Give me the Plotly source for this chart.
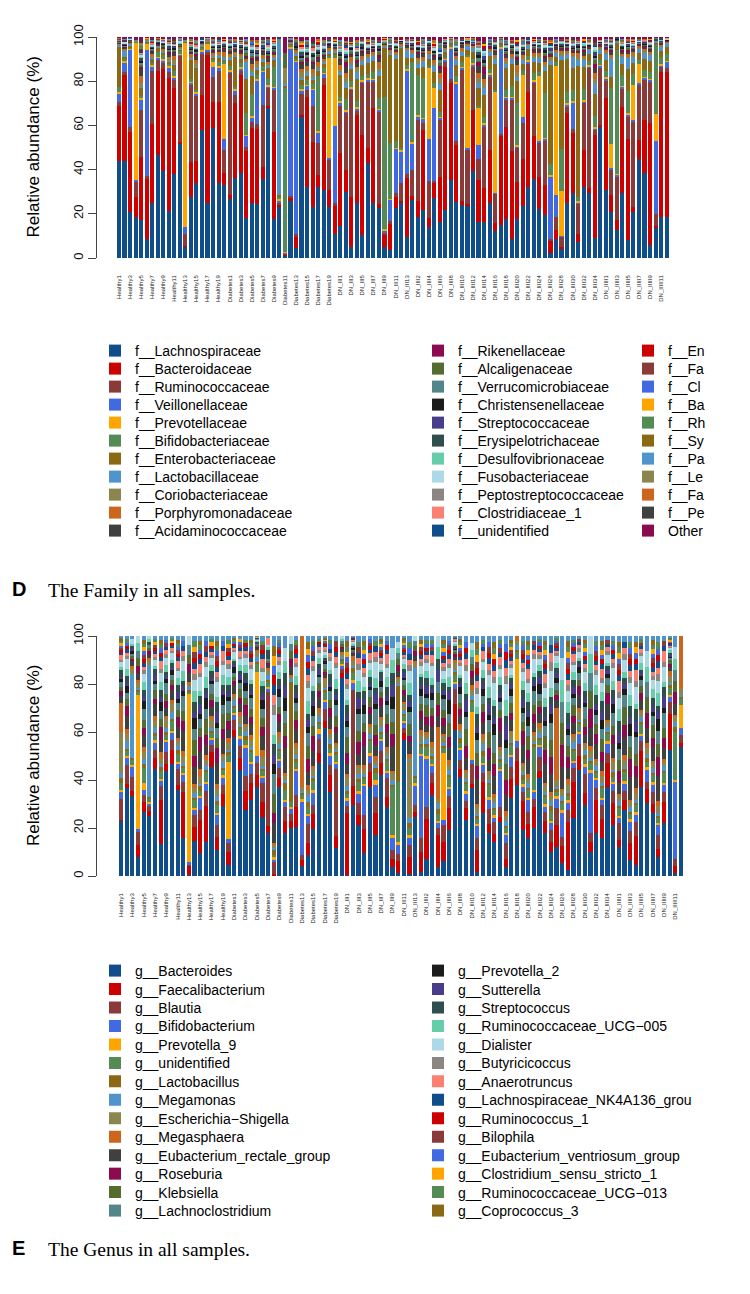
import plotly.graph_objects as go

W, H = 750, 1294

# ---------------- categories ----------------
samples = (["Healthy%d" % i for i in range(1, 21)] + ["Diabetes%d" % i for i in range(1, 21)]
           + ["DN_III%d" % i for i in range(1, 14)] + ["DN_IIII%d" % i for i in range(1, 36)]
           + ["DN_IIIII%d" % i for i in range(1, 13)])
tick_labels = samples[::2]

pal = ["#104E8B", "#CD0000", "#8B3A3A", "#4169E1", "#FFA500", "#548B54", "#8B6914",
       "#4F94CD", "#8B864E", "#CD661D", "#404040", "#8B0A50", "#556B2F", "#53868B",
       "#1C1C1C", "#483D8B", "#2F4F4F", "#66CDAA", "#ADD8E6", "#8B8682", "#FA8072"]

fam_names = ["f__Lachnospiraceae", "f__Bacteroidaceae", "f__Ruminococcaceae", "f__Veillonellaceae",
             "f__Prevotellaceae", "f__Bifidobacteriaceae", "f__Enterobacteriaceae", "f__Lactobacillaceae",
             "f__Coriobacteriaceae", "f__Porphyromonadaceae", "f__Acidaminococcaceae",
             "f__Rikenellaceae", "f__Alcaligenaceae", "f__Verrucomicrobiaceae", "f__Christensenellaceae",
             "f__Streptococcaceae", "f__Erysipelotrichaceae", "f__Desulfovibrionaceae",
             "f__Fusobacteriaceae", "f__Peptostreptococcaceae", "f__Clostridiaceae_1", "f__unidentified",
             "f__En", "f__Fa", "f__Cl", "f__Ba", "f__Rh", "f__Sy", "f__Pa", "f__Le", "f__Fa", "f__Pe", "Other"]

gen_names = ["g__Bacteroides", "g__Faecalibacterium", "g__Blautia", "g__Bifidobacterium", "g__Prevotella_9",
             "g__unidentified", "g__Lactobacillus", "g__Megamonas", "g__Escherichia\u2212Shigella",
             "g__Megasphaera", "g__Eubacterium_rectale_group", "g__Roseburia", "g__Klebsiella",
             "g__Lachnoclostridium", "g__Prevotella_2", "g__Sutterella", "g__Streptococcus",
             "g__Ruminococcaceae_UCG\u2212005", "g__Dialister", "g__Butyricicoccus", "g__Anaerotruncus",
             "g__Lachnospiraceae_NK4A136_grou", "g__Ruminococcus_1", "g__Bilophila",
             "g__Eubacterium_ventriosum_group", "g__Clostridium_sensu_stricto_1",
             "g__Ruminococcaceae_UCG\u2212013", "g__Coprococcus_3", "Others"]

# ---------------- family: main families (% abundance) ----------------
f_lachno = [44,44,21,18.7,17,8.6,24.7,46.6,39.4,21.3, 38,52,5,27.8,34,58,25,59,33.8,33,
            26.5,36.3,38.3,18.3,24.7,24.5,35.7,67.7,17.6,23, 1,26,4.4,63.6,32.3,23,32.3,30.8,23,11,
            14.5,30,5,24.7,10.4,42.8,24.7,22.5,5,3.6, 22.5,24.7,9.7,26.2,18.7,21.7,14,27,16.4,21.7,
            35.3,25.5,24,23.5,39.5,16.4,16.4,25,12,15, 17.5,8.4,17.5,23.7,32,35.6,22,19.5,2.4,8.4,
            4.4,24.7,29.3,7.2,32.3,29.3,8.9,59.4,30.8,21, 12.7,29.3,8.1,21,44.6,38.6,5.9,13.9,18.7,18.7]
f_bactero = [25,39,36,9,28.5,27,36,38,46,60, 39,0.5,0.5,15.8,10,15.6,67,11.7,37,5.3,
             2,33.7,44.5,30,34,34,5.5,1,39.4,1, 0.5,1,5.3,1,40.7,29.6,5.3,47.5,7.8,12.7,
             33,9.8,22.8,40,45.3,6.8,43,2,5.4,12, 5,1,26.3,2,7.3,36.3,4,6.8,20.4,64.9,
             43.7,25.5,2,1,27.5,18.9,15.1,24,3.7,40, 41.9,40,17,21.3,43.3,19.4,14.8,13.5,5.4,4.3,
             0.5,40.8,27.1,3.7,16.6,2.2,46.8,1,41.4,7.5, 4.4,39.2,45.9,2,8.8,23.8,55.1,0.5,65.6,65.6]
f_rumino = [1.5,1,2.4,7,21.5,1.4,24,5,3,3, 3.5,39,5.4,34.7,29.5,18.8,1,11.3,14,10.7,
            55,3.8,2,2,3,2,28,8,19,1, 0.5,1,1,9.4,3,16,14.3,3,13.6,1,
            21.5,25.7,48,2,23.3,30.2,12,41.5,1,1, 2,8.3,2,11.6,36.4,3,17,1,25.6,2,
            2,2,59,24.5,19.6,9.7,27.9,33,13.3,1, 12.1,23,15.1,16,12.7,24,15.2,20,1,6,
            4.6,3,2,13.8,21.1,54.3,2,25.6,8,11.3, 19.5,8,10,38.4,24.9,18.1,18.7,5.6,2,1.5]
f_veillon = [4,4.5,35,0.6,4.5,57,2,1,1,2, 1,0.5,3,1,1,1,1,4.6,1,5,
             1,2.2,1,5,2,20,15,1,1,1, 0.5,67,78,2,2,7.5,5,2,1,35,
             1,1,1,1,1,1,1,1,1,9.8, 20,14.4,46.8,12.2,1.5,2,19,33.2,1,1,
             14,26,1,1,1,6,1,1,0.5,39, 1,1,1,3,1,1,1,1,28.2,9.8,
             0.5,1,12.1,0.5,1,1,1,1,1,1, 1,1,1,1,1,1,1,33.1,1,3]
f_prevo = [0.5,0.5,0.5,62,1,3,0.5,0.5,0.5,0.5, 1,0.5,83.5,0.5,0.5,0.5,3,2,1,34,
           0.5,0.5,0.5,0.5,0.5,0.5,0.5,0.5,0.5,0.5, 0.3,0.5,0.5,0.5,0.5,0.5,0.5,0.5,45,31,
           1,0.5,0.5,0.5,0.5,0.5,0.5,0.5,0.5,0.5, 0.5,0.5,0.5,0.5,1,0.5,32,9,0.5,0.5,
           0.5,0.5,0.5,41,0.5,16.7,0.5,0.5,45.5,0.5, 0.5,0.5,0.5,18.8,0.5,0.5,29.3,0.5,0.5,58.4,
           20.5,0.5,0.5,0.5,0.5,0.5,0.5,0.5,0.5,10.6, 0.5,0.5,0.5,16,8.3,0.5,0.5,12.1,0.5,0.5]
f_bifido = [2.5,1,0.5,0.5,1,0.5,1,2,2,1, 2,1,0.3,1,1,1,0.5,1,2,1,
            2,1,2,10,10,2,2,3,9,1, 74,1,1,2,2,2,25,2,1,1,
            2,5,3,3,2,2,3,5,60,25, 3,1,2,36,18,18,1,2,2,1,
            1,3,2,1,2,1,3,2,1,1, 3,5,19,2,2,3,2,20,5,2,
            19,5,5,2,5,2,5,2,3,25.6, 56,5,10,5,2,3,3,31,3,3]
f_entero = [18,1,0.5,0.3,3.5,0.5,2,2,1,1, 3,1,0.3,9,10,1,0.5,1,2,1,
            3,13.5,2,15,8,2,2,5,3,1, 1,0.5,1,2,2,2,2,2,1,1,
            10,5,5,10,5,5,5,10,22,40, 37,45,3,2,3,5,3,5,10,2,
            1,5,3,2,3,8.3,10,6,12,1, 10,10,10,3,3,5,4,10,45,2,
            40,15,10,59,10,3,10,3,5,5, 3,5,10,5,3,5,5,1,3,3]
f_lacto = [1,3,1,0.2,0.5,0.5,0.5,0.5,0.5,0.5, 0.5,0.5,0.2,0.5,0.5,0.5,0.5,0.5,0.5,0.5,
           0.5,0.5,0.5,8,2,1,1,1,1,70, 1,0.5,1,1,1,1,1,1,1,1,
           1,2,2,3,2,2,2,2,1,1, 2,1,4,2,2,2,2,3,3,1,
           1,2,2,2,2,2,3,2,2,1, 2,2,2,2,2,2,2,2,2,2,
           2,2,5,3,3,2,5,2,3,8, 1,3,5,3,2,3,3,1,2,2]

# minor families: relative share of each within the remaining abundance of a sample
w_corio = [2,1,1,1,3,1,2,2,2,2, 3,1,1,2,3,2,1,2,3,2, 2,3,2,1,2,3,2,1,2,1, 1,1,2,3,2,2,3,1,2,1,
           2,3,2,2,1,2,3,2,1,2, 1,2,3,2,3,2,1,2,3,2, 1,2,2,3,2,3,2,1,2,2, 3,2,3,2,1,2,3,2,1,2,
           3,2,1,3,2,1,2,3,2,2, 3,2,1,2,3,2,1,2,3,1]
w_porph = [2,1,1,0,5,1,2,1,3,2, 4,1,0,3,2,1,1,2,3,4, 3,2,2,1,3,2,4,1,2,0, 0,1,1,2,3,2,3,1,4,2,
           3,2,4,2,3,2,3,4,1,1, 2,3,2,4,2,3,4,2,3,2, 1,2,3,2,4,3,2,3,2,1, 3,2,4,3,2,3,4,2,1,2,
           2,3,4,3,2,1,3,2,4,2, 3,2,3,2,4,3,2,1,2,3]
w_acid = [3,2,1,1,5,1,3,2,2,3, 3,1,1,2,3,2,1,3,2,3, 2,2,4,2,3,2,3,2,2,1, 0,2,1,3,3,2,2,2,3,2,
          3,3,2,3,3,2,2,3,1,2, 2,2,3,2,3,3,2,3,2,3, 3,2,4,3,2,4,2,3,3,2, 3,2,3,2,3,2,4,3,2,3,
          3,2,3,2,3,3,2,3,2,3, 3,3,2,3,2,3,2,2,3,2]
w_riken = [1,1,0,0,2,0,2,1,1,2, 1,0,0,1,2,1,1,1,2,1, 2,1,2,1,1,1,2,1,1,0, 0,1,0,1,2,1,2,1,1,1,
           2,2,1,2,1,1,2,2,1,1, 1,1,2,1,2,1,2,1,2,1, 2,1,2,2,1,2,3,2,1,1, 2,1,2,1,2,2,1,2,1,2,
           1,2,2,1,2,1,2,1,2,2, 1,2,2,1,2,2,1,1,2,1]
w_alcal = [1,1,1,0,1,0,1,1,2,1, 1,1,0,1,1,1,1,1,1,1, 2,1,1,2,1,1,1,1,2,1, 1,0,1,1,1,1,2,1,1,0,
           1,1,1,2,1,1,1,2,1,1, 1,1,1,2,1,1,1,1,2,1, 1,1,1,1,2,1,1,1,1,1, 2,1,1,1,1,2,1,1,1,1,
           1,2,1,1,1,1,2,1,1,1, 1,1,2,1,1,1,1,1,1,2]
w_verru = [1,1,0,0,1,0,1,0,1,1, 1,0,0,1,1,0,1,1,1,0, 1,1,1,3,2,1,1,0,1,1, 0,1,0,1,1,1,1,1,0,1,
           1,1,1,1,1,0,1,1,1,0, 1,1,1,1,1,1,0,1,1,1, 1,1,0,1,1,1,1,1,1,0, 1,1,1,1,0,1,1,1,1,1,
           0,1,1,1,1,0,1,1,1,1, 1,0,1,1,1,1,1,0,1,1]
w_chris = [1,1,0,0,2,0,1,1,1,1, 2,1,0,1,1,1,0,1,2,1, 1,1,2,1,1,1,1,1,1,0, 0,0,1,1,1,1,1,1,1,1,
           1,1,2,1,1,1,1,1,0,0, 1,1,1,1,1,1,1,1,2,1, 1,1,1,1,1,2,1,1,1,1, 1,1,1,1,1,1,1,2,0,1,
           1,1,1,2,1,1,1,1,1,1, 1,2,1,1,1,1,1,1,1,1]
w_strep = [1,1,1,0,1,0,1,1,1,2, 1,0,0,1,1,2,1,1,1,1, 1,1,1,0,1,1,2,1,1,0, 0,1,1,1,1,0,1,1,1,1,
           1,1,0,1,2,1,1,1,1,1, 0,1,1,2,1,1,1,0,1,1, 1,1,1,1,1,1,2,1,1,1, 1,0,1,1,1,1,1,1,2,1,
           1,1,2,1,1,0,1,1,1,1, 2,1,1,1,0,1,1,1,1,1]
w_erys = [1,0,1,0,1,0,1,1,0,1, 1,1,0,1,0,1,1,0,1,1, 0,1,1,1,0,1,1,0,1,1, 0,1,0,1,0,1,1,0,1,0,
          1,0,1,1,1,0,1,1,0,1, 1,0,1,1,0,1,1,0,1,1, 0,1,1,0,1,1,0,1,1,0, 1,1,0,1,1,0,1,1,0,1,
          1,0,1,1,0,1,1,0,1,1, 0,1,1,0,1,1,0,1,1,0]
w_desul = [1,1,0,0,1,0,1,2,1,1, 0,1,0,1,1,1,0,1,1,1, 1,0,1,1,1,0,1,1,1,0, 0,1,0,1,1,0,1,1,0,1,
           1,1,0,1,1,1,0,1,1,0, 1,0,1,1,0,1,1,1,0,1, 1,1,0,1,1,1,1,0,1,1, 1,0,1,1,1,0,1,1,1,0,
           1,1,1,0,1,1,1,0,1,1, 1,1,0,1,1,0,1,1,1,1]
w_fuso = [1,2,1,0,1,0,1,1,1,1, 1,2,0,1,1,1,1,1,1,1, 1,1,1,1,1,1,1,1,1,0, 0,1,0,1,1,1,1,1,1,1,
          1,1,1,1,1,1,1,1,0,1, 1,1,1,2,1,1,1,1,1,1, 1,1,1,1,1,1,1,1,1,1, 1,1,1,1,1,1,1,1,1,1,
          1,1,1,1,1,1,1,1,1,1, 1,1,1,1,1,1,1,1,1,1]
w_pepto = [1,0,0,0,1,0,1,1,0,1, 0,1,0,1,0,1,0,1,1,0, 1,0,1,0,1,0,1,0,1,0, 0,1,0,0,1,0,1,0,1,0,
           1,0,1,0,1,0,1,0,0,1, 0,1,0,1,0,1,0,1,0,1, 0,1,0,1,0,1,0,1,0,1, 0,1,0,1,0,1,0,1,0,1,
           0,1,0,1,0,1,0,1,0,1, 0,1,0,1,0,1,0,1,0,1]
w_clos1 = [2,1,0,0,1,0,1,0,1,1, 1,0,0,1,1,0,1,0,1,1, 1,0,1,1,0,1,0,1,1,0, 0,1,0,1,0,1,1,0,1,0,
           1,1,0,1,0,1,1,0,1,0, 1,0,1,0,1,1,0,1,0,1, 1,0,1,1,0,1,0,1,1,0, 1,0,1,0,1,1,0,1,0,1,
           1,0,1,1,0,1,0,1,1,0, 1,1,0,1,0,1,1,0,1,1]
w_unid = [1,1,0,0,1,0,0,1,1,0, 1,0,0,1,0,1,1,0,1,0, 1,0,1,0,1,1,0,1,0,1, 0,0,1,0,1,0,1,0,1,1,
          0,1,0,1,0,1,0,1,1,0, 1,0,1,0,1,0,1,0,1,0, 1,0,1,0,1,0,1,0,1,0, 1,0,1,0,1,0,1,0,1,0,
          1,0,1,0,1,0,1,0,1,0, 1,0,1,0,1,0,1,0,1,0]
w_en = [0,1,0,0,1,0,1,0,0,1, 0,0,0,1,0,0,1,0,0,1, 0,0,1,0,0,1,0,0,1,0, 0,0,0,1,0,0,1,0,0,1,
        0,0,1,0,0,1,0,0,1,0, 0,1,0,0,1,0,0,1,0,0, 1,0,0,1,0,0,1,0,0,1, 0,0,1,0,0,1,0,0,1,0,
        0,1,0,0,1,0,0,1,0,0, 1,0,0,1,0,0,1,0,0,1]
w_fa = [1,0,0,0,1,0,0,1,0,0, 1,0,0,0,1,0,0,1,0,0, 1,0,0,1,0,0,1,0,0,0, 0,0,1,0,0,1,0,0,1,0,
        0,1,0,0,1,0,0,1,0,0, 1,0,0,1,0,0,1,0,0,1, 0,0,1,0,0,1,0,0,1,0, 0,1,0,0,1,0,0,1,0,0,
        1,0,0,1,0,0,1,0,0,1, 0,0,1,0,0,1,0,0,1,0]
w_cl = [0,0,1,0,0,0,1,0,1,0, 0,1,0,0,0,1,0,0,1,0, 0,1,0,0,1,0,0,1,0,0, 0,1,0,0,1,0,0,1,0,0,
        1,0,0,1,0,0,1,0,0,1, 0,0,1,0,0,1,0,0,1,0, 0,1,0,0,1,0,0,1,0,0, 1,0,0,1,0,0,1,0,0,1,
        0,0,1,0,0,1,0,0,1,0, 0,1,0,0,1,0,0,1,0,0]
w_ba = [0,1,0,0,0,1,0,0,1,0, 0,0,0,1,0,0,1,0,0,1, 0,0,1,0,0,1,0,0,1,0, 0,0,0,1,0,0,1,0,0,1,
        0,0,1,0,0,1,0,0,1,0, 0,1,0,0,1,0,0,1,0,0, 1,0,0,1,0,0,1,0,0,1, 0,0,1,0,0,1,0,0,1,0,
        0,1,0,0,1,0,0,1,0,0, 1,0,0,1,0,0,1,0,0,1]
w_rh = [1,0,0,0,1,0,1,0,0,1, 0,0,0,1,0,1,0,0,1,0, 1,0,0,1,0,0,1,0,0,0, 0,0,1,0,0,1,0,0,1,0,
        1,0,0,1,0,0,1,0,0,1, 0,0,1,0,0,1,0,0,1,0, 0,1,0,0,1,0,0,1,0,0, 1,0,0,1,0,0,1,0,0,1,
        0,0,1,0,0,1,0,0,1,0, 0,1,0,0,1,0,0,1,0,0]
w_sy = [0,0,0,0,1,0,0,1,0,0, 1,0,0,0,1,0,0,1,0,0, 0,1,0,0,1,0,0,1,0,0, 0,0,0,0,1,0,0,1,0,0,
        1,0,0,1,0,0,1,0,0,1, 0,0,1,0,0,1,0,0,1,0, 0,1,0,0,1,0,0,1,0,0, 1,0,0,1,0,0,1,0,0,1,
        0,0,1,0,0,1,0,0,1,0, 0,1,0,0,1,0,0,1,0,0]
w_pa = [1,1,0,0,0,0,1,0,0,1, 0,1,0,0,1,0,0,1,0,0, 1,0,0,1,0,0,1,0,0,0, 0,1,0,0,1,0,0,1,0,0,
        1,0,0,1,0,0,1,0,0,1, 0,0,1,0,0,1,0,0,1,0, 0,1,0,0,1,0,0,1,0,0, 1,0,0,1,0,0,1,0,0,1,
        0,0,1,0,0,1,0,0,1,0, 0,1,0,0,1,0,0,1,0,0]
w_le = [0,0,0,0,1,0,0,0,1,0, 0,0,0,1,0,0,0,1,0,0, 0,1,0,0,0,1,0,0,0,1, 0,0,0,1,0,0,0,1,0,0,
        0,1,0,0,0,1,0,0,0,1, 0,0,0,1,0,0,0,1,0,0, 0,1,0,0,0,1,0,0,0,1, 0,0,0,1,0,0,0,1,0,0,
        0,1,0,0,0,1,0,0,0,1, 0,0,0,1,0,0,0,1,0,0]
w_fa2 = [1,0,0,0,1,0,0,1,0,0, 0,1,0,0,1,0,0,0,1,0, 0,1,0,0,0,1,0,0,1,0, 0,0,1,0,0,0,1,0,0,1,
         0,0,0,1,0,0,1,0,0,0, 1,0,0,1,0,0,0,1,0,0, 1,0,0,0,1,0,0,1,0,0, 0,1,0,0,1,0,0,0,1,0,
         0,1,0,0,0,1,0,0,1,0, 0,0,1,0,0,1,0,0,0,1]
w_pe = [1,0,0,0,1,0,1,0,0,0, 1,0,0,0,0,1,0,0,1,0, 0,0,1,0,0,0,1,0,0,0, 0,1,0,0,0,1,0,0,0,1,
        0,0,1,0,0,0,1,0,0,0, 1,0,0,0,1,0,0,0,1,0, 0,0,1,0,0,0,1,0,0,0, 1,0,0,0,1,0,0,0,1,0,
        0,0,1,0,0,0,1,0,0,0, 1,0,0,0,1,0,0,0,1,0]
w_other = [2,2,1,1,3,1,2,2,2,2, 2,1,1,2,2,2,1,2,2,2, 2,2,2,2,2,2,2,1,2,1, 1,1,1,2,2,2,2,2,2,1,
           2,2,2,2,2,2,2,2,1,1, 2,2,2,2,2,2,2,2,2,2, 2,2,2,2,2,2,2,2,2,2, 2,2,2,2,2,2,2,2,1,2,
           2,2,2,2,2,2,2,2,2,2, 2,2,2,2,2,2,2,2,2,2]

# ---------------- genus: main genera (% abundance) ----------------
g_bact = [23,36.5,33.3,8,26.8,25,44.4,13.3,43.8,46.5, 36,16,0.3,14.7,9.4,14.3,45.6,10.8,29,4.6,
          58,44.2,27.5,31.7,37.2,24.7,17.8,0.3,36.9,17.8, 19.9,20.6,4.6,8.8,19.7,47.2,61.5,35.1,11.5,82.4,
          0.3,29.6,21.3,9.4,37.2,17.1,42.1,28.9,3.9,1.1, 56.7,1,24.7,1.8,6.9,33.8,3.9,6.3,19.2,60.8,
          41.4,23.3,36.5,1.8,26.1,17.8,14.3,22.6,3.9,32.4, 39.3,19.2,15.7,19.9,40.7,17.8,10.1,12.2,5.3,2.5,
          24,44.2,29.6,10.1,17.8,15.7,37.2,21.3,12.2,27.5, 6.7,4.6,37.2,30.3,26.1,8.1,21.9,52.5,1.1,61.5]
g_faec = [0.5,2,2,5,4,2,4.6,18.3,3,6, 2,19,3.9,5.8,14,15,6,5.6,5,5.5, 3,5,8,7,5,6,3,0.5,4,5,
          3,8,3,5,6,4,3,7,5,2, 26,8,4,10,6,9,5,4,3,5, 3,7,2,8,17,5,13,8,9,11,
          3,5,2,9,13,4,3,2,3,8, 10,12,6,9,3,5,4,9,7,20, 15,6,5,4,14,8,10,9,3,4,
          7,12,15,6,4,3,9,15,3,2]
g_blau = [8.6,7.6,6,5.5,3,2,3.5,6,5,4, 6.7,4,0.5,5,4,6,3,5,4,3.5, 4,5,6,4,5,8,56,5,4,6,
          3,5,2,8,4,6,5,4,28,2, 3,40,5,6,4,7,5,8,4,3, 2,5,3,6,5,4,3,7,5,6,
          4,3,8,5,4,6,5,4,7,5, 6,4,5,3,6,4,5,7,4,5, 6,5,8,4,5,6,4,5,7,4,
          5,6,4,3,5,6,4,5,3,4]
g_bifi = [2.8,3,4,1,2,1,3,2,4,3, 2,3,1,2,5,3,2,4,3,2, 2,3,12,4,3,2,1,1,3,2, 2,10,25,3,5,2,3,4,2,1,
          2,3,4,12,3,5,4,2,5,4, 2,3,8,34,20,3,2,2,3,2, 4,3,2,5,3,4,2,15,3,4, 3,2,5,3,4,2,3,4,10,3,
          2,4,3,25,3,2,4,3,2,3, 4,3,2,5,3,4,3,2,32,3]
g_prev9 = [1,1,1,56,3,1,1,1,1,1, 1,1,70,1,1,1,1,1,1,32, 1,1,1,1,35,1,1,1,1,1, 1,1,1,1,1,2,1,1,1,1,
           1,1,1,1,1,2,1,1,1,1, 1,1,1,1,1,1,1,28,1,1, 1,1,20,1,1,1,1,1,1,1, 35,1,1,1,1,1,1,1,1,1,
           1,1,1,1,1,1,1,1,1,1, 1,1,1,1,1,1,1,1,1,11]
g_unid = [3,2,2,1,6,1,2,3,2,4, 3,2,1,3,2,4,2,3,2,3, 2,3,2,4,3,2,2,1,3,4, 2,3,2,3,4,2,3,2,3,1,
          2,3,4,2,5,3,2,4,20,25, 2,3,2,3,4,2,3,2,4,3, 2,3,4,2,3,5,2,3,2,4, 3,2,3,18,2,3,4,2,3,2,
          4,3,2,3,2,4,3,2,3,4, 2,3,4,2,3,2,4,3,20,3]
g_lact = [2,1,1,1,2,1,1,2,1,1, 2,1,1,1,2,1,1,2,1,1, 1,1,2,1,1,1,1,2,1,3, 50,1,1,2,1,1,1,2,1,1,
          1,2,1,1,1,2,1,1,1,40, 1,2,1,1,1,1,2,1,1,1, 2,1,1,1,2,1,1,1,1,1, 1,2,1,1,1,1,2,1,1,1,
          1,1,2,1,1,1,1,2,1,1, 1,1,1,2,1,1,1,1,2,1]
g_mega = [2,3,35,1,2,55,2,1,2,3, 2,1,1,2,1,2,1,2,3,1, 2,1,2,1,2,1,2,1,2,1, 1,2,1,3,1,2,1,2,1,1,
          2,1,2,1,2,1,2,1,2,1, 1,2,45,1,2,1,2,1,2,1, 2,1,2,1,3,1,2,1,2,1, 2,1,2,1,2,1,2,1,2,1,
          3,1,2,1,2,1,2,1,2,1, 2,1,2,1,2,1,2,1,2,1]
g_esch = [17,3,2,2,3,2,3,2,4,3, 2,3,1,2,3,2,4,3,2,3, 2,3,2,3,2,4,2,1,3,2, 1,3,2,2,3,2,3,2,2,1,
          4,2,3,2,3,2,3,2,3,2, 3,25,2,3,2,3,2,3,2,3, 2,3,2,3,2,3,2,3,2,3, 2,3,2,3,2,3,2,3,2,3,
          2,3,2,3,2,3,2,3,2,3, 2,3,2,3,2,3,2,3,2,3]
g_megasph = [12,2,1,1,2,1,2,3,1,2, 1,2,1,2,3,2,1,2,1,2, 1,2,1,2,1,3,1,1,2,1, 1,2,70,2,1,2,1,2,1,1,
             1,2,1,2,1,2,1,2,1,1, 1,2,1,2,1,2,30,1,2,1, 2,1,2,1,2,1,2,1,2,1, 2,1,2,1,2,1,2,30,1,2,
             1,2,1,2,1,2,1,2,1,2, 1,2,1,2,1,2,1,2,1,25]

# minor genera: relative share within the remaining abundance of a sample
v_erect = [3,4,2,1,3,1,4,3,2,4, 3,4,1,3,4,2,3,4,3,2, 4,3,2,3,4,3,1,2,3,2, 1,3,1,2,3,4,2,3,2,1,
           2,3,2,4,3,2,4,3,2,1, 3,2,1,3,2,4,1,2,3,4, 3,2,1,4,3,2,3,4,2,3, 1,4,3,2,3,4,2,3,1,2,
           3,4,2,1,3,2,4,3,2,3, 4,2,3,1,3,4,2,3,1,2]
v_rose = [2,3,1,1,2,1,2,3,2,2, 3,2,1,2,3,2,2,3,2,2, 2,2,3,2,2,2,1,1,2,1, 1,2,1,2,3,2,2,2,1,1,
          2,2,2,3,2,2,3,2,1,1, 2,1,1,2,2,3,1,2,2,3, 2,2,1,2,3,2,2,3,2,2, 1,3,2,2,2,3,2,2,1,2,
          2,3,2,1,2,2,3,2,2,2, 3,2,2,1,2,3,2,2,1,2]
v_kleb = [2,2,1,1,2,1,3,2,2,2, 2,2,1,3,2,3,2,2,3,2, 2,3,2,2,3,2,1,2,2,1, 1,2,1,2,2,3,2,2,2,1,
          3,2,2,2,3,2,2,2,1,1, 2,2,1,2,3,2,1,2,3,2, 2,3,1,2,2,3,2,2,2,3, 1,2,3,2,2,3,2,2,1,2,
          3,2,2,1,2,3,2,2,2,3, 2,2,2,1,3,2,2,3,1,2]
v_lachno = [2,2,1,1,3,1,2,2,3,2, 2,3,1,2,2,2,3,2,2,3, 2,2,2,3,2,2,1,2,3,1, 1,2,1,2,2,2,3,2,2,1,
            2,2,3,2,2,3,2,2,1,1, 2,2,1,2,2,2,1,3,2,2, 3,2,1,2,2,2,3,2,2,2, 1,2,2,3,2,2,2,3,1,2,
            2,2,3,1,2,2,2,3,2,2, 2,3,2,1,2,2,3,2,1,2]
v_prev2 = [1,2,1,0,2,0,1,2,1,2, 1,1,0,2,1,2,1,1,2,1, 3,1,2,1,1,2,0,1,2,1, 0,1,0,1,2,1,2,1,1,0,
           1,2,1,2,1,1,2,1,1,0, 1,1,0,2,1,2,0,1,3,1, 2,1,0,1,2,1,2,1,1,2, 1,1,2,1,3,1,1,2,0,1,
           1,2,1,0,1,2,1,2,1,1, 2,1,1,0,1,2,1,1,0,1]
v_sutt = [1,1,1,0,1,0,2,1,1,1, 2,1,0,1,2,1,1,2,1,1, 1,2,1,1,2,1,0,1,1,1, 0,1,0,1,1,2,1,1,1,0,
          1,1,2,1,1,2,1,1,1,0, 2,1,0,1,2,1,1,1,2,1, 1,2,0,1,1,2,1,1,2,1, 1,2,1,1,2,1,1,2,0,1,
          2,1,1,0,1,2,1,1,2,1, 1,2,1,0,1,1,2,1,0,1]
v_strep = [3,2,1,0,2,1,2,2,1,2, 2,1,0,2,2,1,2,2,1,2, 2,1,2,2,1,2,4,1,2,1, 0,2,0,1,2,2,1,2,1,0,
           2,2,1,2,2,1,2,2,1,0, 2,1,0,2,2,1,1,2,1,2, 2,1,0,2,2,1,2,2,1,2, 1,2,2,1,2,2,1,2,0,2,
           2,1,2,0,2,2,1,2,2,1, 2,2,1,0,2,1,2,2,0,2]
v_ucg005 = [1,2,1,1,2,1,1,2,2,1, 2,2,0,2,1,2,2,1,2,2, 1,2,2,1,2,1,1,1,2,1, 0,2,0,2,1,2,2,1,2,1,
            1,2,2,1,2,2,1,2,1,1, 2,2,0,1,2,2,1,1,2,2, 1,2,1,1,2,2,1,2,2,1, 1,2,2,1,2,2,1,2,1,2,
            2,1,2,1,2,2,1,2,2,1, 2,1,2,1,2,2,1,2,1,2]
v_dial = [2,3,2,1,2,1,2,2,2,3, 2,2,1,2,3,2,2,3,2,2, 3,2,2,3,2,2,1,2,2,1, 1,2,1,2,3,2,2,2,2,1,
          2,3,2,2,2,3,2,2,1,1, 2,2,1,2,2,3,1,2,2,2, 3,2,1,2,2,2,3,2,2,2, 1,2,2,3,2,2,2,3,1,2,
          2,2,3,1,2,2,2,3,2,2, 2,3,2,1,2,2,3,2,1,2]
v_buty = [1,1,0,0,1,0,1,1,1,1, 1,1,0,1,1,1,1,1,1,1, 1,1,1,1,1,1,0,1,1,0, 0,1,0,1,1,1,1,1,1,0,
          1,1,1,1,1,1,1,1,0,0, 1,1,0,1,1,1,0,1,1,1, 1,1,0,1,1,1,1,1,1,1, 0,1,1,1,1,1,1,1,0,1,
          1,1,1,0,1,1,1,1,1,1, 1,1,1,0,1,1,1,1,0,1]
v_anaero = [2,1,0,0,1,0,1,2,1,1, 2,1,0,1,2,1,1,1,2,1, 1,2,1,1,1,2,3,1,1,0, 0,1,0,1,1,1,2,1,1,0,
            1,2,1,1,2,1,1,2,0,0, 1,1,0,1,1,2,0,1,1,2, 1,1,0,1,2,1,1,2,1,1, 0,1,2,1,1,2,1,1,0,1,
            2,1,1,0,1,2,1,1,2,1, 1,2,1,0,1,1,2,1,0,1]
v_nk4a = [1,1,0,0,1,0,1,1,1,1, 1,1,0,1,1,1,1,1,1,1, 1,1,1,1,1,1,0,1,1,0, 0,1,0,1,1,1,1,1,1,0,
          1,1,1,1,1,1,1,1,0,0, 1,1,0,1,1,1,0,1,1,1, 1,1,0,1,1,1,1,1,1,1, 0,1,1,1,1,1,1,1,0,1,
          1,1,1,0,1,1,1,1,1,1, 1,1,1,0,1,1,1,1,0,1]
v_rum1 = [1,1,0,0,1,0,1,1,0,1, 1,0,0,1,1,0,1,1,0,1, 1,0,1,1,0,1,0,1,1,0, 0,1,0,1,0,1,1,0,1,0,
          1,1,0,1,1,0,1,1,0,0, 1,0,0,1,1,0,0,1,1,0, 1,1,0,1,0,1,1,0,1,1, 0,1,1,0,1,1,0,1,0,1,
          1,0,1,0,1,1,0,1,1,0, 1,1,0,0,1,1,0,1,0,1]
v_bilo = [1,0,0,0,1,0,1,0,1,0, 1,0,0,1,0,1,0,1,0,1, 0,1,0,1,0,1,0,0,1,0, 0,1,0,0,1,0,1,0,1,0,
          1,0,1,0,1,0,1,0,0,0, 1,0,0,1,0,1,0,0,1,0, 1,0,0,1,0,1,0,1,0,1, 0,1,0,1,0,1,0,1,0,1,
          0,1,0,0,1,0,1,0,1,0, 1,0,1,0,1,0,1,0,0,1]
v_event = [1,1,0,0,1,0,0,1,1,0, 1,1,0,0,1,1,0,1,1,0, 1,1,0,1,1,0,0,1,1,0, 0,0,0,1,1,0,1,1,0,0,
           1,1,0,1,1,0,1,1,0,0, 1,1,0,0,1,1,0,1,1,0, 1,1,0,0,1,1,0,1,1,0, 0,1,1,0,1,1,0,1,0,1,
           1,0,1,0,1,1,0,1,1,0, 1,1,0,0,1,1,0,1,0,1]
v_clos = [1,0,0,0,1,0,1,0,0,1, 0,0,0,1,0,0,1,0,0,1, 0,1,0,0,1,0,0,1,0,0, 0,0,0,1,0,0,1,0,0,0,
          1,0,0,1,0,0,1,0,0,0, 1,0,0,1,0,0,0,1,0,0, 1,0,0,1,0,0,1,0,0,1, 0,0,1,0,0,1,0,0,0,1,
          0,0,1,0,0,1,0,0,1,0, 0,1,0,0,1,0,0,1,0,0]
v_ucg013 = [1,1,0,0,1,0,1,1,0,1, 1,0,0,1,1,0,1,1,0,1, 1,0,1,1,0,1,0,0,1,0, 0,1,0,0,1,1,0,1,0,0,
            1,0,1,1,0,1,1,0,0,0, 1,1,0,0,1,1,0,1,0,1, 1,0,0,1,1,0,1,1,0,1, 0,1,1,0,1,1,0,1,0,1,
            1,0,1,0,1,1,0,1,1,0, 1,0,1,0,1,1,0,1,0,1]
v_copro = [1,0,0,0,1,0,0,1,0,0, 1,0,0,0,1,0,0,1,0,0, 1,0,0,1,0,0,0,1,0,0, 0,0,0,1,0,0,1,0,0,0,
           1,0,0,1,0,0,1,0,0,0, 1,0,0,1,0,0,0,1,0,0, 1,0,0,1,0,0,1,0,0,1, 0,0,1,0,0,1,0,0,0,1,
           0,0,1,0,0,1,0,0,1,0, 0,1,0,0,1,0,0,1,0,0]
v_others = [1,1,1,0,1,0,1,1,1,1, 1,1,0,1,1,1,1,1,1,1, 1,1,1,1,1,1,1,1,1,1, 0,1,0,1,1,1,1,1,1,0,
            1,1,1,1,1,1,1,1,1,1, 1,1,0,1,1,1,0,1,1,1, 1,1,1,1,1,1,1,1,1,1, 1,1,1,1,1,1,1,1,1,1,
            1,1,1,0,1,1,1,1,1,1, 1,1,1,1,1,1,1,1,1,1]


def compose(majors, weights):
    """majors in %, minors fill the remainder of each sample in proportion to their weights"""
    n = len(samples)
    out = [list(m[:n]) for m in majors]
    minors = [[0.0] * n for _ in weights]
    for i in range(n):
        tot = sum(m[i] for m in out)
        if tot > 100:
            for m in out:
                m[i] = m[i] * 100.0 / tot
            tot = 100.0
        rest = 100.0 - tot
        ws = sum(w[i] for w in weights)
        for j, w in enumerate(weights):
            minors[j][i] = rest * w[i] / ws if ws > 0 else 0.0
    return out + minors


fam_vals = compose([f_lachno, f_bactero, f_rumino, f_veillon, f_prevo, f_bifido, f_entero, f_lacto],
                   [w_corio, w_porph, w_acid, w_riken, w_alcal, w_verru, w_chris, w_strep, w_erys,
                    w_desul, w_fuso, w_pepto, w_clos1, w_unid, w_en, w_fa, w_cl, w_ba, w_rh, w_sy,
                    w_pa, w_le, w_fa2, w_pe, w_other])
gen_vals = compose([g_bact, g_faec, g_blau, g_bifi, g_prev9, g_unid, g_lact, g_mega, g_esch, g_megasph],
                   [v_erect, v_rose, v_kleb, v_lachno, v_prev2, v_sutt, v_strep, v_ucg005, v_dial,
                    v_buty, v_anaero, v_nk4a, v_rum1, v_bilo, v_event, v_clos, v_ucg013, v_copro,
                    v_others])

fig = go.Figure()
LEG_FONT = dict(family="Liberation Sans, Arial, sans-serif", size=14, color="#000000")
legend_layouts = {}
leg_count = [0]


def new_legend(xpx, ypx):
    leg_count[0] += 1
    lid = "legend" if leg_count[0] == 1 else "legend%d" % leg_count[0]
    legend_layouts[lid] = dict(x=xpx / W, y=1 - ypx / H, xanchor="left", yanchor="middle",
                               bgcolor="rgba(0,0,0,0)", borderwidth=0, font=LEG_FONT,
                               traceorder="normal", itemclick=False, itemdoubleclick=False)
    return lid


for k, (name, vals) in enumerate(zip(fam_names, fam_vals)):
    col, row = divmod(k, 11)
    lid = new_legend([95, 418, 628][col], 351 + 18.0 * row)
    fig.add_trace(go.Bar(x=samples, y=vals, name=name, marker=dict(color=pal[k % 21], line=dict(width=0)),
                         xaxis="x", yaxis="y", legend=lid))

for k, (name, vals) in enumerate(zip(gen_names, gen_vals)):
    if name == "Others":
        fig.add_trace(go.Bar(x=samples, y=vals, name=name, marker=dict(color=pal[k % 21], line=dict(width=0)),
                             xaxis="x2", yaxis="y2", showlegend=False))
        continue
    col, row = divmod(k, 14)
    lid = new_legend([95, 418][col], 971 + 18.46 * row)
    fig.add_trace(go.Bar(x=samples, y=vals, name=name, marker=dict(color=pal[k % 21], line=dict(width=0)),
                         xaxis="x2", yaxis="y2", legend=lid))

AX_FONT = dict(family="Liberation Sans, Arial, sans-serif", color="#000000")


def xaxis_cfg(x0, x1, anchor):
    return dict(domain=[x0 / W, x1 / W], anchor=anchor, type="category", range=[-0.5, 99.5],
                tickmode="array", tickvals=tick_labels, ticktext=tick_labels, tickangle=-90,
                tickfont=dict(AX_FONT, size=6, color="#222222"), ticks="", showline=False,
                showgrid=False, zeroline=False, ticklabelstandoff=15)


def yaxis_cfg(ytop, ybot):
    return dict(domain=[1 - ybot / H, 1 - ytop / H], range=[0, 100], anchor="free", position=96 / W,
                tickmode="array", tickvals=[0, 20, 40, 60, 80, 100], tickangle=-90,
                tickfont=dict(AX_FONT, size=13, color="#111111"), ticks="outside", ticklen=8,
                tickcolor="#444444", showline=True, linecolor="#444444", linewidth=1,
                showgrid=False, zeroline=False)


fig.update_layout(
    width=W, height=H, margin=dict(l=0, r=0, t=0, b=0, autoexpand=False),
    paper_bgcolor="white", plot_bgcolor="white", barmode="stack", bargap=0.26,
    font=dict(family="Liberation Sans, Arial, sans-serif"),
    xaxis=xaxis_cfg(116.2, 669.4, "y"), yaxis=yaxis_cfg(37, 258),
    xaxis2=xaxis_cfg(118.2, 683.8, "y2"), yaxis2=yaxis_cfg(636, 876),
    **legend_layouts,
)

ann = [
    dict(x=33 / W, y=1 - 147.5 / H, text="Relative abundance (%)", textangle=-90, font=dict(AX_FONT, size=17)),
    dict(x=33 / W, y=1 - 756 / H, text="Relative abundance (%)", textangle=-90, font=dict(AX_FONT, size=17)),
    dict(x=10 / W, y=1 - 589 / H, text="<b>D</b>", xanchor="left", font=dict(AX_FONT, size=20)),
    dict(x=46 / W, y=1 - 590 / H, text="The Family in all samples.", xanchor="left",
         font=dict(family="Liberation Serif, Times New Roman, serif", size=19.5, color="#000000")),
    dict(x=10 / W, y=1 - 1248 / H, text="<b>E</b>", xanchor="left", font=dict(AX_FONT, size=20)),
    dict(x=46 / W, y=1 - 1249 / H, text="The Genus in all samples.", xanchor="left",
         font=dict(family="Liberation Serif, Times New Roman, serif", size=19.5, color="#000000")),
]
for a in ann:
    a.update(xref="paper", yref="paper", showarrow=False, yanchor="middle")
    a.setdefault("xanchor", "center")
fig.update_layout(annotations=ann)

fig.write_html("out.html", config={"displayModeBar": False},
               post_script="document.body.style.margin='0';document.body.style.padding='0';")
